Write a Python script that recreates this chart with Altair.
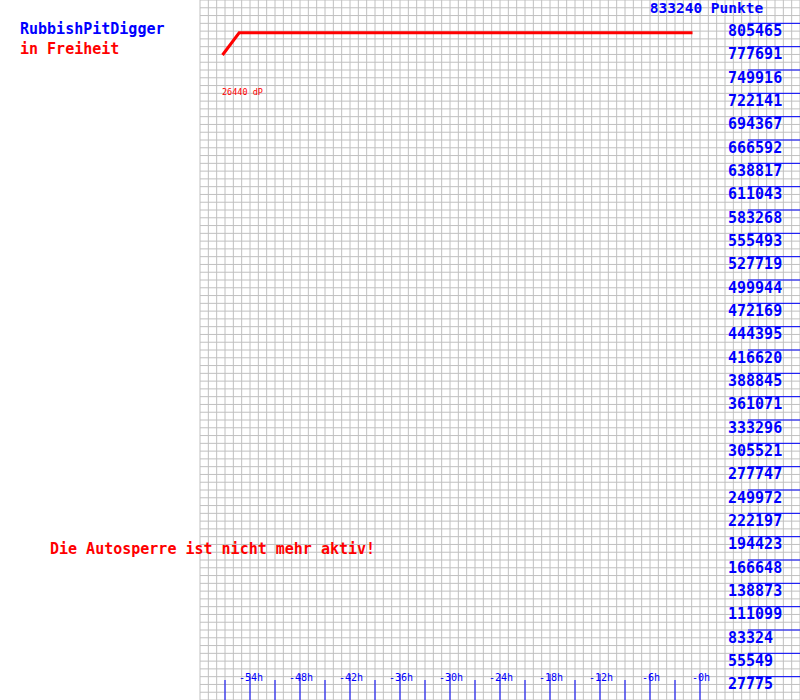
import altair as alt
import pandas as pd

# ---- data ----
total_points = 833240
player = "RubbishPitDigger"
status = "in Freiheit"
notice = "Die Autosperre ist nicht mehr aktiv!"
delta_label = "26440 dP"

# red score line: hours relative to now, points
line_hours = [-57.3, -55.3, -0.9]
line_points = [767760, 794200, 794200]

# right-hand value labels
y_tick_values = [27775, 55549, 83324, 111099, 138873, 166648, 194423, 222197,
                 249972, 277747, 305521, 333296, 361071, 388845, 416620, 444395,
                 472169, 499944, 527719, 555493, 583268, 611043, 638817, 666592,
                 694367, 722141, 749916, 777691, 805465]
y_tick_labels = [str(v) for v in y_tick_values]

# bottom hour labels
x_label_hours = [-54, -48, -42, -36, -30, -24, -18, -12, -6, 0]
x_labels = ["-54h", "-48h", "-42h", "-36h", "-30h", "-24h", "-18h", "-12h", "-6h", "-0h"]
x_minor_hours = [-57, -51, -45, -39, -33, -27, -21, -15, -9, -3]

# ---- layout / styling ----
BLUE = "#0000ff"
RED = "#ff0000"
GRID = "#c0c0c0"
MONO = "DejaVu Sans Mono"

xs = alt.Scale(domain=[-84, 12], nice=False, zero=False)
ys = alt.Scale(domain=[0, total_points], nice=False, zero=False)

grid_x0, grid_x1 = -60, 12
vgrid = pd.DataFrame({"h": list(range(grid_x0, grid_x1 + 1))})
hgrid = pd.DataFrame({"v": [k * total_points / 90 for k in range(0, 91)]})
hgrid["x0"] = grid_x0
hgrid["x1"] = grid_x1

v_rules = alt.Chart(vgrid).mark_rule(color=GRID, strokeWidth=1).encode(
    x=alt.X("h:Q", scale=xs, axis=None),
    y=alt.value(0), y2=alt.value(700))
h_rules = alt.Chart(hgrid).mark_rule(color=GRID, strokeWidth=1).encode(
    x=alt.X("x0:Q", scale=xs, axis=None), x2="x1:Q",
    y=alt.Y("v:Q", scale=ys, axis=None))

line_df = pd.DataFrame({"h": line_hours, "p": line_points})
score_line = alt.Chart(line_df).mark_line(color=RED, strokeWidth=3).encode(
    x=alt.X("h:Q", scale=xs, axis=None),
    y=alt.Y("p:Q", scale=ys, axis=None))

ytick_df = pd.DataFrame({"v": y_tick_values, "label": y_tick_labels})
y_tick_rules = alt.Chart(ytick_df).mark_rule(color=BLUE, strokeWidth=1).encode(
    x=alt.value(748), x2=alt.value(800),
    y=alt.Y("v:Q", scale=ys, axis=None))
y_tick_text = alt.Chart(ytick_df).mark_text(
    align="left", baseline="alphabetic", dy=12.5, font=MONO, fontSize=15,
    fontWeight="bold", color=BLUE).encode(
    x=alt.value(728), y=alt.Y("v:Q", scale=ys, axis=None), text="label:N")

xlab_df = pd.DataFrame({"h": x_label_hours, "label": x_labels})
x_major = alt.Chart(xlab_df).mark_rule(color=BLUE, strokeWidth=1).encode(
    x=alt.X("h:Q", scale=xs, axis=None), y=alt.value(674), y2=alt.value(700))
x_minor = alt.Chart(pd.DataFrame({"h": x_minor_hours})).mark_rule(
    color=BLUE, strokeWidth=1).encode(
    x=alt.X("h:Q", scale=xs, axis=None), y=alt.value(680), y2=alt.value(700))
x_text = alt.Chart(xlab_df).mark_text(
    align="center", baseline="alphabetic", dx=1, font=MONO, fontSize=10,
    color=BLUE).encode(
    x=alt.X("h:Q", scale=xs, axis=None), y=alt.value(681), text="label:N")

def label(txt, x, y, color, size=15, bold=True):
    return alt.Chart(pd.DataFrame({"t": [txt]})).mark_text(
        align="left", baseline="alphabetic", font=MONO, fontSize=size,
        fontWeight="bold" if bold else "normal", color=color).encode(
        x=alt.value(x), y=alt.value(y), text="t:N")

title_points = alt.Chart(pd.DataFrame({"t": [f"{total_points} Punkte"]})).mark_text(
    align="center", baseline="alphabetic", font=MONO, fontSize=14.5,
    fontWeight="bold", color=BLUE).encode(
    x=alt.value(706.5), y=alt.value(12.5), text="t:N")

delta_text = alt.Chart(pd.DataFrame({"h": [line_hours[0]], "t": [delta_label]})).mark_text(
    align="left", baseline="alphabetic", font=MONO, fontSize=8.5,
    color=RED, dx=-0.5).encode(
    x=alt.X("h:Q", scale=xs, axis=None), y=alt.value(94.5), text="t:N")

chart = alt.layer(
    v_rules, h_rules, y_tick_rules, x_major, x_minor, score_line,
    y_tick_text, x_text, title_points, delta_text,
    label(player, 20, 33.5, BLUE),
    label(status, 20, 53.5, RED),
    label(notice, 50, 553.5, RED),
).properties(
    width=800, height=700, padding=0, autosize="none", background="white"
).configure_view(strokeWidth=0)

chart.save("out.html", embed_options={"renderer": "svg", "actions": False})
